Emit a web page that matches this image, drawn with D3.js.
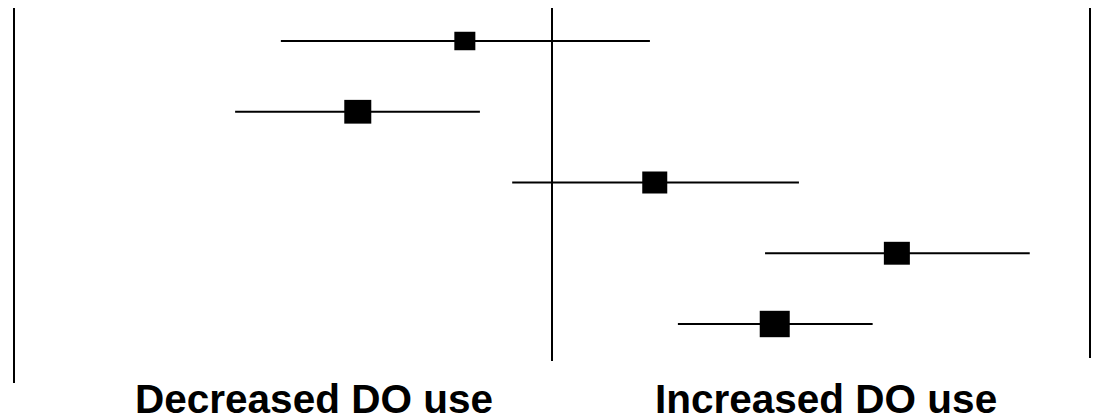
<!DOCTYPE html>
<html>
<head>
<meta charset="utf-8">
<script src="https://cdn.jsdelivr.net/npm/d3@7"></script>
<style>
  html, body { margin: 0; padding: 0; background: #fff; overflow: hidden; }
  svg { display: block; }
</style>
</head>
<body>
<div id="chart"></div>
<script>
// Data (effect estimates with confidence intervals, on a -1..1 axis)
const rows = ["Study 1", "Study 2", "Study 3", "Study 4", "Study 5"];
const estimates = [-0.162, -0.361, 0.191, 0.641, 0.414];
const lower = [-0.504, -0.589, -0.074, 0.396, 0.234];
const upper = [0.182, -0.134, 0.459, 0.888, 0.596];
const weights = [21, 27, 25, 26, 30];
const sideLabels = ["Decreased DO use", "Increased DO use"];
const axisDomain = [-1, 0, 1];

const W = 1099, H = 418;
const svg = d3.select("#chart").append("svg").attr("width", W).attr("height", H);

const x = d3.scaleLinear().domain([axisDomain[0], axisDomain[2]]).range([14, 1090]);
const y = d3.scalePoint().domain(rows).range([41, 324]);
const sz = d3.scaleLinear().domain([0, 30]).range([0, 30]);

// Vertical reference lines
const vlines = [
  {v: axisDomain[0], y1: 8, y2: 383},
  {v: axisDomain[1], y1: 8, y2: 361},
  {v: axisDomain[2], y1: 8, y2: 358}
];
svg.selectAll("line.ref").data(vlines).join("line")
  .attr("class", "ref")
  .attr("x1", d => x(d.v)).attr("x2", d => x(d.v))
  .attr("y1", d => d.y1).attr("y2", d => d.y2)
  .attr("stroke", "#000").attr("stroke-width", 2);

const data = rows.map((r, i) => ({r, est: estimates[i], lo: lower[i], hi: upper[i], w: weights[i]}));

// CI lines
svg.selectAll("line.ci").data(data).join("line")
  .attr("class", "ci")
  .attr("x1", d => x(d.lo)).attr("x2", d => x(d.hi))
  .attr("y1", d => y(d.r)).attr("y2", d => y(d.r))
  .attr("stroke", "#000").attr("stroke-width", 2);

// Squares
svg.selectAll("rect.pt").data(data).join("rect")
  .attr("class", "pt")
  .attr("x", d => x(d.est) - sz(d.w) / 2)
  .attr("y", d => y(d.r) - sz(d.w) * 0.88 / 2)
  .attr("width", d => sz(d.w))
  .attr("height", d => sz(d.w) * 0.88)
  .attr("fill", "#000");

// Side labels
svg.selectAll("text.side").data(sideLabels).join("text")
  .attr("class", "side")
  .attr("x", (d, i) => i === 0 ? 135 : 655)
  .attr("y", 413)
  .attr("font-family", "Liberation Sans, Arial, sans-serif")
  .attr("font-weight", "bold")
  .attr("font-size", 40.5)
  .attr("fill", "#000")
  .text(d => d);
</script>
</body>
</html>
